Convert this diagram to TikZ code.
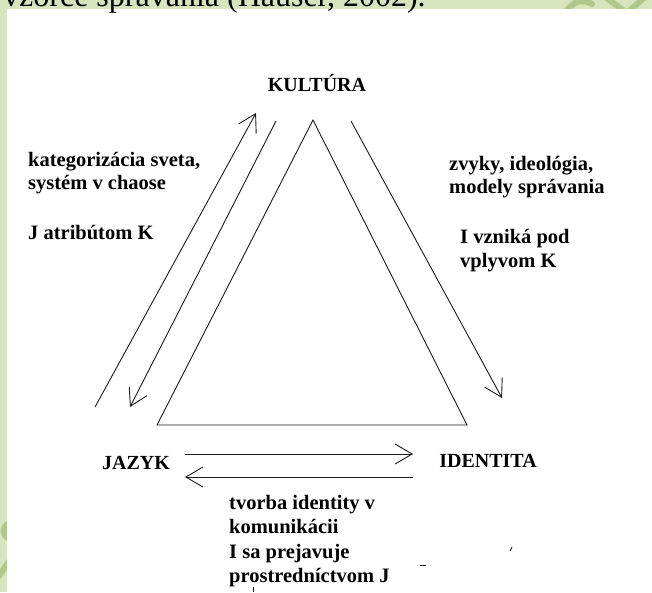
\documentclass[tikz,border=0pt]{standalone}
\usepackage{fontspec}
\setmainfont{Liberation Serif}
\usepackage{xcolor}
\usetikzlibrary{arrows.meta}
\definecolor{pagegreen}{HTML}{D8E4BD}
\definecolor{swirlgreen}{HTML}{AFC78A}
\definecolor{inkgray}{HTML}{1A1A1A}

\tikzset{
  concept/.style={font=\bfseries\fontsize{20}{23}\selectfont, inner sep=0pt},
  note/.style={font=\bfseries\fontsize{20.5}{23}\selectfont, align=left, inner sep=0pt, anchor=north west},
  link/.style={draw=inkgray, line width=0.9pt, -{Straight Barb[length=17pt, width=20pt, line width=0.9pt]}},
  edge/.style={draw=inkgray, line width=0.9pt},
  swirl/.style={draw=swirlgreen, line width=6pt, line cap=round}
}

\begin{document}
\begin{tikzpicture}[x=1pt, y=-1pt]
  \useasboundingbox (0,0) rectangle (652,592);
  \clip (0,0) rectangle (652,592);
  % page background and ornaments
  \fill[pagegreen] (0,0) rectangle (652,592);
  \draw[swirl] (566,12) .. controls (572,2) and (582,-2) .. (592,4);
  \draw[swirl] (604,-4) -- (628,14);
  \draw[swirl] (646,-4) -- (626,14);
  \draw[swirl] (8,524) .. controls (2,528) and (2,534) .. (8,538);
  \draw[swirl] (10,560) -- (-4,580);
  \fill[white] (7,9) rectangle (660,600);
  \node[anchor=base west, inner sep=0pt, font=\fontsize{32}{36}\selectfont] (source) at (3,6)
    {vzorce správania (Hauser, 2002).};

  % corners of the triangle
  \node[concept] (kultura) at (317,83) {KULTÚRA};
  \node[concept] (jazyk) at (136,463) {JAZYK};
  \node[concept] (identita) at (488,461) {IDENTITA};
  \coordinate (top) at (313,120);
  \coordinate (left) at (157,425);
  \coordinate (right) at (467,425);
  \draw[edge] (top) -- (right) -- (left) -- cycle;

  % arrows along the sides
  \coordinate (kj1) at (95,407);
  \coordinate (kj2) at (256,113);
  \coordinate (kj3) at (276,121);
  \coordinate (kj4) at (130,407);
  \coordinate (ki1) at (351,121);
  \coordinate (ki2) at (502,398);
  \coordinate (ji1) at (185,454);
  \coordinate (ji2) at (413,454);
  \coordinate (ji3) at (413,477);
  \coordinate (ji4) at (185,477);
  \draw[link] (kj1) -- (kj2);
  \draw[link] (kj3) -- (kj4);
  \draw[link] (ki1) -- (ki2);
  \draw[link] (ji1) -- (ji2);
  \draw[link] (ji3) -- (ji4);

  % labels
  \node[note] (jazykkultura) at (28,152)
    {kategorizácia sveta,\\ systém v chaose\\[27pt] J atribútom K};
  \node[note] (kulturazvyky) at (449,156) {zvyky, ideológia,\\ modely správania};
  \node[note, font=\bfseries\fontsize{20.5}{24}\selectfont] (kulturavplyv) at (460,229) {I vzniká pod\\ vplyvom K};
  \node[note, font=\bfseries\fontsize{20.5}{24.5}\selectfont] (jazykidentita) at (229,495)
    {tvorba identity v\\ komunikácii\\ I sa prejavuje\\ prostredníctvom J};

  % stray marks
  \draw[edge] (420,565) -- (426,565);
  \draw[edge] (512,547) -- (510,551);
  \draw[edge] (253,587) -- (253,592);
\end{tikzpicture}
\end{document}
